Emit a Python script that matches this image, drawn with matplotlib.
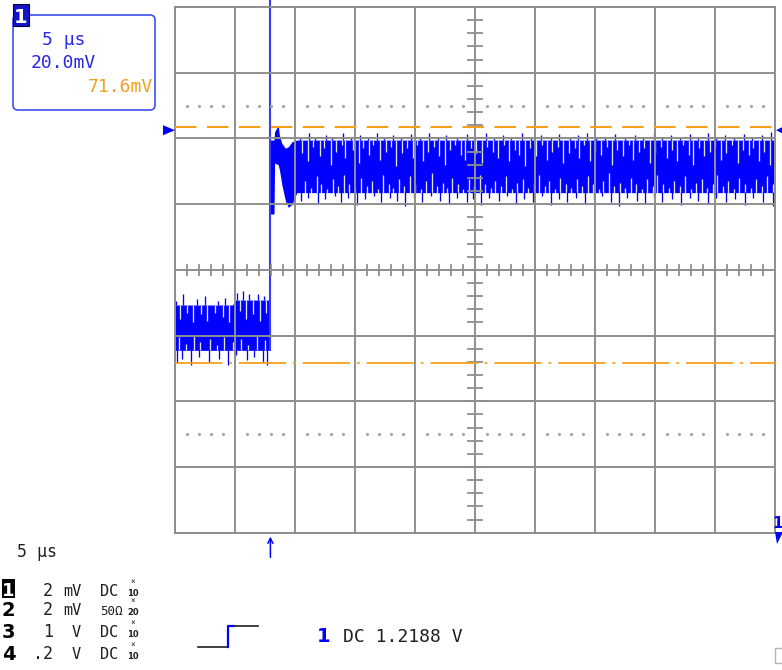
import numpy as np
import matplotlib
matplotlib.use("Agg")
import matplotlib.pyplot as plt
from matplotlib.patches import FancyBboxPatch, Rectangle, Polygon

plt.rcParams['lines.scale_dashes'] = False
MONO = 'DejaVu Sans Mono'
NARROW = ['Liberation Sans Narrow', 'DejaVu Sans']

# ------------------------------------------------------------
# scope settings (5 us/div, 2 mV/div, 10 x 8 divisions)
# ------------------------------------------------------------
t_div = 5.0
v_div = 2.0
n_tdiv = 10
n_vdiv = 8
trig_t = -17.05          # rising edge, us
level_hi = 4.35          # orange dashed cursor, mV
level_lo = -2.84         # orange dash-dot cursor, mV
ch1_marker = 4.25        # ground marker arrows, mV

# pre-step noise band (us, mV)
pre_t = [-25.0, -20.2, -20.0, -17.05]
pre_top = [-1.07, -1.07, -0.92, -0.92]
pre_bot = [-2.45, -2.45, -2.45, -2.45]
pre_gaps_top = [(-24.6, -1.5), (-24.0, -1.3), (-23.5, -1.6), (-22.8, -1.35), (-22.3, -1.55),
                (-21.7, -1.3), (-21.0, -1.45), (-20.5, -1.6), (-19.6, -1.25), (-19.1, -1.5),
                (-18.5, -1.35), (-17.9, -1.55), (-17.4, -1.3)]
pre_spikes_up = [(-24.9, -0.95), (-24.3, -0.75), (-23.2, -0.9), (-22.5, -0.8), (-21.4, -0.95),
                 (-20.8, -0.85), (-19.8, -0.7), (-19.3, -0.65), (-18.8, -0.75), (-18.1, -0.72),
                 (-17.6, -0.8)]
pre_gaps_bot = [(-24.7, -2.05), (-24.1, -2.25), (-23.4, -2.0), (-22.9, -2.2), (-22.1, -2.1),
                (-21.5, -2.3), (-20.9, -2.05), (-20.2, -2.2), (-19.5, -2.1), (-18.9, -2.3),
                (-18.2, -2.0), (-17.5, -2.15)]
pre_spikes_dn = [(-24.8, -2.85), (-24.4, -2.7), (-23.7, -2.9), (-23.0, -2.65), (-22.2, -2.8),
                 (-21.3, -2.7), (-20.6, -2.9), (-19.9, -2.6), (-19.0, -2.75), (-18.4, -2.65),
                 (-17.7, -2.8), (-17.3, -2.9)]

# post-step band with overshoot and ringing
hi_t = [-17.08, -16.75, -16.7, -16.4, -16.3, -16.1, -15.8, -15.55, -15.25, -14.85, -14.5, 25.0]
hi_top = [3.95, 3.95, 4.2, 4.4, 4.1, 3.85, 3.7, 3.75, 3.9, 3.95, 3.95, 3.95]
hi_bot = [1.7, 1.7, 3.25, 3.2, 3.05, 2.6, 2.1, 1.9, 2.0, 2.35, 2.35, 2.35]
hi_edge_top = 3.95
hi_edge_bot = 2.35
hi_gaps_top = [(-14.4, 3.55), (-13.9, 3.3), (-13.5, 3.75), (-12.9, 3.45), (-12.6, 3.7), (-12.0, 3.2),
               (-11.6, 3.6), (-11.1, 3.8), (-10.8, 3.4), (-10.2, 3.65), (-9.7, 3.25), (-9.3, 3.7),
               (-8.8, 3.5), (-8.5, 3.8), (-7.9, 3.35), (-7.4, 3.6), (-7.0, 3.75), (-6.6, 3.15),
               (-6.1, 3.55), (-5.7, 3.7), (-5.2, 3.4), (-4.8, 3.8), (-4.3, 3.3), (-3.9, 3.6),
               (-3.4, 3.75), (-3.0, 3.45), (-2.5, 3.2), (-2.1, 3.65), (-1.7, 3.8), (-1.2, 3.5),
               (-0.8, 3.35), (-0.3, 3.7), (0.1, 3.55), (0.6, 3.25), (1.0, 3.75), (1.5, 3.6),
               (1.9, 3.4), (2.4, 3.8), (2.8, 3.3), (3.3, 3.65), (3.7, 3.5), (4.2, 3.15),
               (4.6, 3.7), (5.1, 3.45), (5.6, 3.8), (6.0, 3.35), (6.4, 3.6), (6.9, 3.75),
               (7.3, 3.25), (7.8, 3.55), (8.3, 3.7), (8.7, 3.4), (9.1, 3.8), (9.6, 3.3),
               (10.0, 3.6), (10.5, 3.5), (11.0, 3.75), (11.4, 3.2), (11.8, 3.65), (12.3, 3.45),
               (12.8, 3.8), (13.2, 3.35), (13.7, 3.6), (14.1, 3.7), (14.6, 3.25), (15.0, 3.55),
               (15.5, 3.75), (16.0, 3.4), (16.4, 3.65), (16.8, 3.3), (17.3, 3.8), (17.8, 3.5),
               (18.2, 3.2), (18.7, 3.7), (19.1, 3.45), (19.6, 3.6), (20.0, 3.75), (20.5, 3.35),
               (20.9, 3.55), (21.4, 3.8), (21.9, 3.25), (22.3, 3.65), (22.8, 3.5), (23.2, 3.7),
               (23.7, 3.3), (24.1, 3.6), (24.6, 3.2)]
hi_gaps_bot = [(-14.2, 2.7), (-13.7, 2.5), (-13.2, 2.85), (-12.8, 2.6), (-12.3, 2.45), (-11.8, 2.75),
               (-11.4, 2.55), (-10.9, 2.9), (-10.5, 2.6), (-10.0, 2.5), (-9.5, 2.8), (-9.0, 2.55),
               (-8.6, 2.7), (-8.1, 2.45), (-7.7, 2.9), (-7.2, 2.6), (-6.8, 2.5), (-6.3, 2.75),
               (-5.9, 2.55), (-5.4, 2.85), (-5.0, 2.6), (-4.5, 2.45), (-4.1, 2.7), (-3.6, 2.95),
               (-3.2, 2.55), (-2.7, 2.65), (-2.3, 2.5), (-1.9, 2.8), (-1.4, 2.6), (-1.0, 2.45),
               (-0.5, 2.75), (-0.1, 2.55), (0.4, 2.9), (0.8, 2.6), (1.3, 2.5), (1.7, 2.7),
               (2.2, 2.55), (2.6, 2.85), (3.1, 2.45), (3.5, 2.65), (4.0, 2.75), (4.4, 2.5),
               (4.9, 2.6), (5.3, 2.9), (5.8, 2.55), (6.2, 2.7), (6.7, 2.45), (7.1, 2.8),
               (7.6, 2.6), (8.0, 2.5), (8.5, 2.75), (8.9, 2.55), (9.4, 2.85), (9.8, 2.6),
               (10.3, 2.45), (10.7, 2.7), (11.2, 2.95), (11.6, 2.55), (12.1, 2.65), (12.5, 2.5),
               (13.0, 2.8), (13.4, 2.6), (13.9, 2.45), (14.3, 2.75), (14.8, 2.55), (15.2, 2.9),
               (15.7, 2.6), (16.2, 2.5), (16.6, 2.7), (17.1, 2.55), (17.5, 2.85), (18.0, 2.45),
               (18.4, 2.65), (18.9, 2.75), (19.3, 2.5), (19.8, 2.6), (20.2, 2.9), (20.7, 2.55),
               (21.1, 2.7), (21.6, 2.45), (22.0, 2.8), (22.5, 2.6), (23.0, 2.5), (23.4, 2.75),
               (23.9, 2.55), (24.3, 2.85), (24.8, 2.6)]
hi_spikes_up = [(-14.6, 4.05), (-13.8, 4.15), (-13.3, 4.0), (-12.4, 4.1), (-11.9, 4.05), (-11.0, 4.18),
                (-10.3, 4.02), (-9.6, 4.1), (-8.9, 4.05), (-8.2, 4.15), (-7.6, 4.0), (-6.8, 4.1),
                (-6.2, 4.05), (-5.3, 4.12), (-4.6, 4.02), (-3.8, 4.15), (-3.1, 4.05), (-2.4, 4.1),
                (-1.5, 4.0), (-0.7, 4.12), (0.0, 4.05), (0.9, 4.15), (1.6, 4.02), (2.3, 4.1),
                (3.0, 4.05), (3.9, 4.18), (4.7, 4.0), (5.5, 4.1), (6.3, 4.05), (7.0, 4.12),
                (7.9, 4.02), (8.6, 4.1), (9.3, 4.15), (10.1, 4.05), (10.8, 4.0), (11.7, 4.12),
                (12.5, 4.05), (13.3, 4.1), (14.0, 4.02), (14.9, 4.15), (15.6, 4.05), (16.3, 4.1),
                (17.1, 4.0), (17.9, 4.12), (18.6, 4.05), (19.4, 4.15), (20.1, 4.02), (20.8, 4.1),
                (21.6, 4.05), (22.4, 4.12), (23.1, 4.0), (23.9, 4.1), (24.7, 4.2)]
hi_spikes_dn = [(-14.5, 2.1), (-13.9, 2.2), (-13.1, 2.0), (-12.5, 2.15), (-11.7, 2.25), (-11.2, 2.05),
                (-10.6, 2.2), (-9.8, 1.98), (-9.2, 2.15), (-8.4, 2.25), (-7.8, 2.05), (-7.1, 2.2),
                (-6.5, 2.1), (-5.8, 1.95), (-5.1, 2.2), (-4.4, 2.05), (-3.7, 2.25), (-2.9, 2.1),
                (-2.2, 2.0), (-1.5, 2.2), (-0.7, 2.05), (-0.2, 2.15), (0.5, 1.97), (1.2, 2.2),
                (2.0, 2.1), (2.7, 2.25), (3.4, 2.0), (4.1, 2.15), (4.8, 2.05), (5.6, 2.25),
                (6.3, 1.98), (7.0, 2.15), (7.7, 2.05), (8.4, 2.2), (9.2, 2.0), (9.9, 2.15),
                (10.6, 2.25), (11.3, 2.05), (12.0, 1.95), (12.7, 2.2), (13.5, 2.1), (14.2, 2.0),
                (14.9, 2.2), (15.6, 2.05), (16.4, 2.15), (17.2, 1.97), (17.9, 2.2), (18.6, 2.1),
                (19.4, 2.0), (20.1, 2.2), (20.9, 2.05), (21.7, 2.15), (22.5, 1.98), (23.2, 2.2),
                (24.0, 2.05), (24.8, 1.95)]

# readout texts
box_lines = ["5 \u00b5s", "20.0mV"]
box_delta = "71.6mV"
timebase = "5 \u00b5s"
ch_names = ["1", "2", "3", "4"]
ch_scale = ["2", "2", "1", ".2"]
ch_unit = ["mV", "mV", "V", "V"]
ch_coupling = ["DC", "50\u03a9", "DC", "DC"]
ch_probe = ["10", "20", "10", "10"]
trig_text = "DC 1.2188 V"

BLUE = '#0000ff'
TXT_BLUE = '#2828e8'
ORANGE = '#f4a01c'
GRID = '#8e8e8e'
GAP = '#dde2ff'
INK = '#202020'

W, H = 782, 670
fig = plt.figure(figsize=(W / 100, H / 100), dpi=100)

# main screen area: pixels 175..775 x 7..532.7
ax = fig.add_axes([175 / W, (H - 532.7) / H, 600 / W, 525.7 / H])
ax.set_xlim(-n_tdiv / 2 * t_div, n_tdiv / 2 * t_div)
ax.set_ylim(-n_vdiv / 2 * v_div, n_vdiv / 2 * v_div)
ax.set_xticks(np.arange(-25, 25.1, t_div))
ax.set_yticks(np.arange(-8, 8.1, v_div))
ax.tick_params(length=0, labelbottom=False, labelleft=False)
ax.set_axisbelow(False)
ax.grid(True, color=GRID, lw=1.4)
for sp in ax.spines.values():
    sp.set_color(GRID)
    sp.set_linewidth(1.4)

# minor ticks along the centre axes
for t in np.arange(-25, 25.1, t_div / 5):
    ax.plot([t, t], [-0.15, 0.15], color=GRID, lw=1.3, zorder=3)
for v in np.arange(-8, 8.1, v_div / 5):
    ax.plot([-0.55, 0.55], [v, v], color=GRID, lw=1.3, zorder=3)
# dotted rows at +-2.5 div
dot_t = [t for t in np.arange(-24, 25, t_div / 5) if abs(t % t_div) > 1e-6]
for v in (2.5 * v_div, -2.5 * v_div):
    ax.plot(dot_t, [v] * len(dot_t), ls='none', marker='s', ms=1.1, color='#a4a4a4', zorder=3)

# trace
lw_px = 0.95
ax.fill_between(pre_t, pre_top, pre_bot, color=BLUE, lw=0, zorder=1)
ax.fill_between(hi_t, hi_top, hi_bot, color=BLUE, lw=0, zorder=1)


def edge_value(tt, ts, vs):
    return np.interp(tt, ts, vs)


for pts, ref, col in [(pre_gaps_top, pre_top, GAP), (pre_spikes_up, pre_top, BLUE)]:
    tt, vv = zip(*pts)
    ax.vlines(tt, vv, edge_value(tt, pre_t, ref), color=col, lw=lw_px, zorder=1.5)
for pts, ref, col in [(pre_gaps_bot, pre_bot, GAP), (pre_spikes_dn, pre_bot, BLUE)]:
    tt, vv = zip(*pts)
    ax.vlines(tt, edge_value(tt, pre_t, ref), vv, color=col, lw=lw_px, zorder=1.5)

tt, vv = zip(*hi_gaps_top)
ax.vlines(tt, vv, hi_edge_top + 0.01, color=GAP, lw=lw_px, zorder=1.5)
tt, vv = zip(*hi_gaps_bot)
ax.vlines(tt, hi_edge_bot - 0.01, vv, color=GAP, lw=lw_px, zorder=1.5)
tt, vv = zip(*hi_spikes_up)
ax.vlines(tt, hi_edge_top - 0.01, vv, color=BLUE, lw=lw_px, zorder=1.5)
tt, vv = zip(*hi_spikes_dn)
ax.vlines(tt, vv, hi_edge_bot + 0.01, color=BLUE, lw=lw_px, zorder=1.5)

# rising edge (goes off the top of the screen)
ax.plot([trig_t, trig_t], [pre_bot[-1], 8.25], color='#3a3aff', lw=1.5, zorder=2,
        clip_on=False)

# cursors
ax.axhline(level_hi, color=ORANGE, lw=1.5, dashes=(15.5, 7.5), zorder=4)
ax.axhline(level_lo, color=ORANGE, lw=1.3, dashes=(34, 5, 2, 5), zorder=4)

# trigger position arrow under the screen
ax.annotate('', xy=(trig_t, -8.12), xytext=(trig_t, -8.75), annotation_clip=False,
            arrowprops=dict(arrowstyle='->', color=BLUE, lw=1.1,
                            mutation_scale=9, shrinkA=0, shrinkB=0))

# ------------------------------------------------------------
# overlay in pixel coordinates for the readouts
# ------------------------------------------------------------
ov = fig.add_axes([0, 0, 1, 1], zorder=5)
ov.set_xlim(0, W)
ov.set_ylim(H, 0)
ov.axis('off')
ov.patch.set_alpha(0)

# marker arrows for channel 1 level
y_mark = H - ax.transData.transform((0, ch1_marker))[1]
ov.add_patch(Polygon([(163, y_mark - 5), (163, y_mark + 5), (175, y_mark)], color=BLUE, lw=0))
ov.add_patch(Polygon([(783, y_mark - 3.5), (783, y_mark + 3.5), (776, y_mark)], color=BLUE, lw=0))

# right edge "1" marker
ov.text(772, 528, "1", color=BLUE, fontsize=11, fontweight='bold', family=NARROW,
        ha='left', va='baseline')
ov.add_patch(Polygon([(775, 532), (783, 532), (777, 544)], color=BLUE, lw=0))
ov.add_patch(Rectangle((775, 648), 10, 15, fill=False, edgecolor='#b4b4b4', lw=1))

# top-left measurement box
ov.add_patch(FancyBboxPatch((13, 15), 142, 95, boxstyle="round,pad=0,rounding_size=5",
                            fill=False, edgecolor='#3c50f0', lw=1.2))
ov.add_patch(Rectangle((13, 4), 16, 22, facecolor='#1414c8', edgecolor='#000040', lw=0.8))
ov.text(21, 23, "1", color='white', fontsize=14, fontweight='bold', family=NARROW,
        ha='center', va='baseline')
ov.text(42, 45, box_lines[0], color=TXT_BLUE, fontsize=13, family=MONO, va='baseline')
ov.text(31, 68, box_lines[1], color=TXT_BLUE, fontsize=13, family=MONO, va='baseline')
ov.text(153, 92, box_delta, color=ORANGE, fontsize=13, family=MONO, va='baseline', ha='right')

# bottom-left channel table
ov.text(17, 557, timebase, color=INK, fontsize=12, family=MONO, va='baseline')
row_base = [596, 615, 637, 659]
for i in range(4):
    yb = row_base[i]
    if i == 0:
        ov.add_patch(Rectangle((2, yb - 17), 13, 19, color='black', lw=0))
        ov.text(8.5, yb, ch_names[i], color='white', fontsize=13, fontweight='bold',
                family=NARROW, ha='center', va='baseline')
    else:
        ov.text(8.5, yb + 1, ch_names[i], color='black', fontsize=14, fontweight='bold',
                family=NARROW, ha='center', va='baseline')
    ov.text(53, yb, ch_scale[i], color=INK, fontsize=12, family=MONO, ha='right', va='baseline')
    ov.text(81, yb, ch_unit[i], color=INK, fontsize=11, family=MONO, ha='right', va='baseline')
    ov.text(100, yb, ch_coupling[i], color=INK, fontsize=11 if i != 1 else 9,
            family=MONO, ha='left', va='baseline')
    # probe factor: small "x" stacked above the ratio
    ov.text(133, yb - 11, "\u00d7", color=INK, fontsize=5.5, family=MONO, ha='center', va='baseline')
    ov.text(133, yb, ch_probe[i], color=INK, fontsize=6, family=NARROW, ha='center', va='baseline',
            fontweight='bold')

# trigger symbol and level
ov.plot([198, 228], [647, 647], color=INK, lw=1.2)
ov.plot([228, 228, 234], [647, 626, 626], color=BLUE, lw=1.6)
ov.plot([234, 258], [626, 626], color=INK, lw=1.2)
ov.text(317, 642, "1", color=BLUE, fontsize=14, fontweight='bold', family=NARROW, va='baseline')
ov.text(343, 642, trig_text, color=INK, fontsize=13, family=MONO, va='baseline')

fig.savefig("out.png", dpi=100)
